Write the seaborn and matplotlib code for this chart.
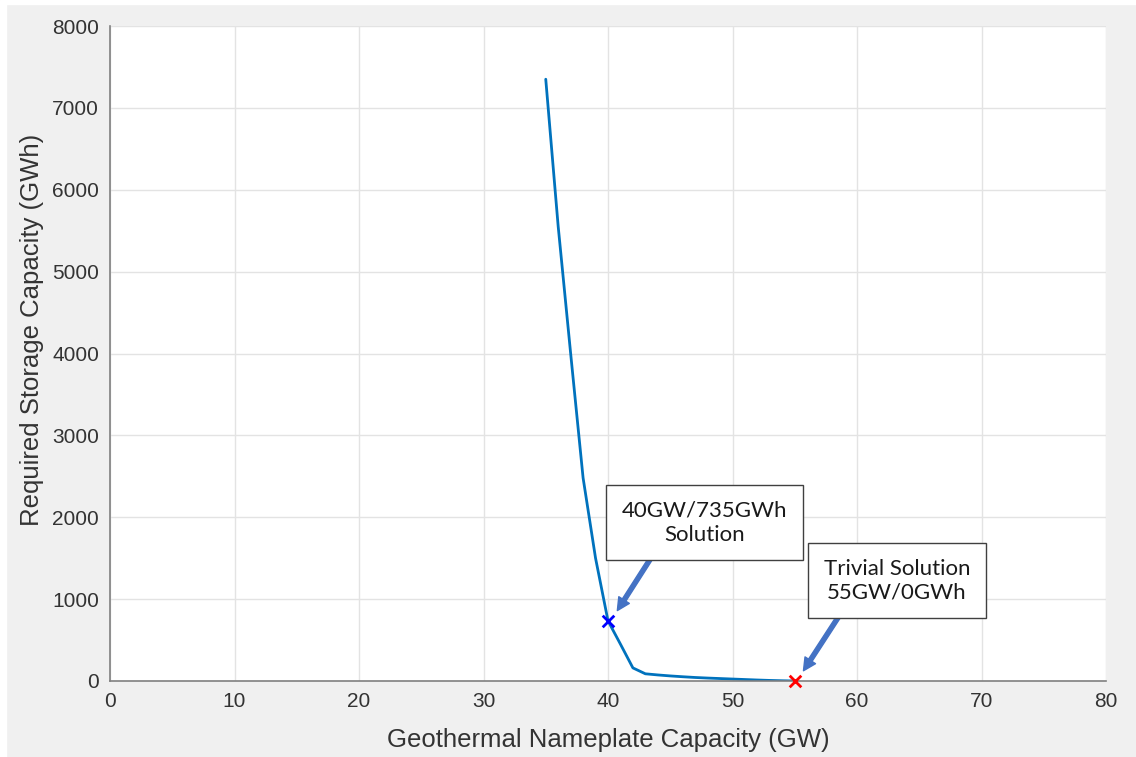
import numpy as np
import pandas as pd
import seaborn as sns
import matplotlib.pyplot as plt
from matplotlib.patches import Rectangle

# geothermal capacity (GW) vs required storage (GWh)
capacity = [35, 36, 37, 38, 39, 40, 41, 42, 43, 44, 45, 46, 47, 48, 49, 50, 51, 52, 53, 54, 55]
storage = [7350, 5550, 4000, 2480, 1500, 735, 450, 160, 88, 74, 62, 52, 43, 36, 30, 24, 18, 12, 7, 3, 0]

chosen_x, chosen_y = [40], [735]
trivial_x, trivial_y = [55], [0]

df = pd.DataFrame({'capacity': capacity, 'storage': storage})

sns.set_style("whitegrid")
plt.rcParams['font.family'] = ['Liberation Sans', 'DejaVu Sans']

fig = plt.figure(figsize=(11.36, 7.57), dpi=100, facecolor='#f0f0f0')
ax = fig.add_axes([110/1136, 76/757, 996/1136, 655/757])
ax.set_facecolor('white')

sns.lineplot(data=df, x='capacity', y='storage', ax=ax, color='#0072BD', linewidth=2)

# highlighted solutions
sns.scatterplot(x=chosen_x, y=chosen_y, ax=ax, marker='x', color='blue', s=70, linewidth=2, zorder=5, clip_on=False)
sns.scatterplot(x=trivial_x, y=trivial_y, ax=ax, marker='x', color='red', s=70, linewidth=2, zorder=5, clip_on=False)

ax.set_xlim(0, 80)
ax.set_ylim(0, 8000)
ax.set_xticks(np.arange(0, 81, 10))
ax.set_yticks(np.arange(0, 8001, 1000))
ax.grid(True, color='#e3e3e3', linewidth=1)
for side in ['top', 'right']:
    ax.spines[side].set_visible(False)
for side in ['left', 'bottom']:
    ax.spines[side].set_color('#808080')
    ax.spines[side].set_linewidth(1.2)
ax.tick_params(direction='in', length=6, width=1.2, color='#808080', labelsize=15, labelcolor='#333333', pad=8)

ax.set_xlabel('Geothermal Nameplate Capacity (GW)', fontsize=18.5, color='#333333', labelpad=12)
ax.set_ylabel('Required Storage Capacity (GWh)', fontsize=18.5, color='#333333', va='center')
# the y label sits a little above the middle of the axis in the original
ax.yaxis.set_label_coords(-0.078, 0.536)

# callout boxes with arrows
box = dict(boxstyle='square,pad=0.7', facecolor='white', edgecolor='#404040', linewidth=1)
arrow = dict(arrowstyle='simple,head_width=0.9,head_length=0.9,tail_width=0.3', color='#4472C4', shrinkA=0, shrinkB=0)
ax.annotate('', xy=(40.75, 860), xytext=(43.4, 1490), arrowprops=arrow)
ax.annotate('', xy=(55.7, 125), xytext=(58.5, 780), arrowprops=arrow)
ax.text(47.75, 1935, '40GW/735GWh\nSolution', ha='center', va='center', fontsize=16,
        family=['Lato', 'DejaVu Sans'], color='#1a1a1a', bbox=box, linespacing=1.25, zorder=6)
ax.text(63.2, 1227, 'Trivial Solution\n55GW/0GWh', ha='center', va='center', fontsize=16,
        family=['Lato', 'DejaVu Sans'], color='#1a1a1a', bbox=box, linespacing=1.25, zorder=6)

# thin white strip along the top and left edges of the screenshot
fig.add_artist(Rectangle((0, 1 - 4/757), 1, 4/757, transform=fig.transFigure, color='white', zorder=-1))
fig.add_artist(Rectangle((0, 0), 6/1136, 1, transform=fig.transFigure, color='white', zorder=-1))

fig.savefig('out.png', dpi=100, facecolor=fig.get_facecolor())
